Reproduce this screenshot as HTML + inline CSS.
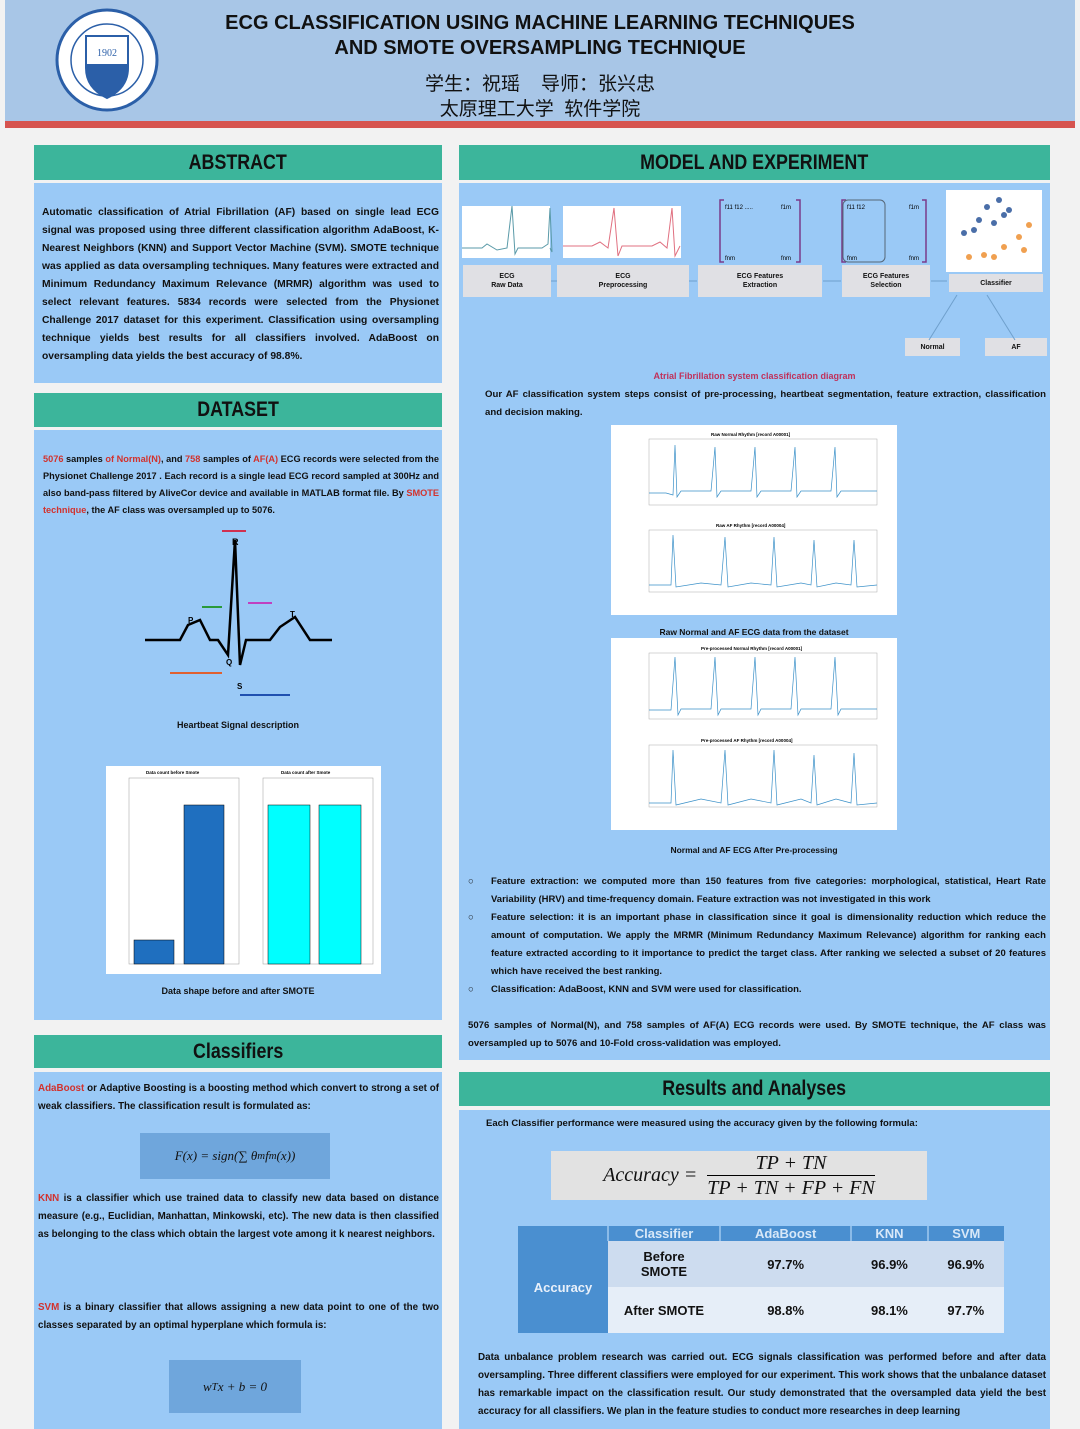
<!DOCTYPE html>
<html><head><meta charset="utf-8"><style>
*{margin:0;padding:0;box-sizing:border-box}
body{width:1080px;height:1429px;background:#f2f2f2;position:relative;overflow:hidden;font-family:"Liberation Sans","Noto Sans CJK SC",sans-serif;color:#111}
.a{position:absolute}
.hd{background:#3cb59b;text-align:center;font-weight:bold;font-size:21px;color:#111;display:flex;align-items:center;justify-content:center;font-family:"Liberation Sans Narrow","Liberation Sans",sans-serif}
.hd span{display:inline-block;transform:scaleX(.85)}
.bd{background:#9ac9f6}
.t{font-size:10.2px;font-weight:bold;line-height:18px;text-align:justify}
.r{color:#d2322d}
.box{background:#e0e0e4;font-size:7px;font-weight:bold;text-align:center;display:flex;align-items:center;justify-content:center;line-height:9px}
.w{background:#fff}
</style></head><body>
<div class="a" style="left:5px;top:0;width:1070px;height:122px;background:#a8c6e7"></div>
<div class="a" style="left:5px;top:121px;width:1070px;height:7px;background:#d6544f"></div>
<svg class="a" style="left:54px;top:8px" width="106" height="104"><circle cx="53" cy="52" r="50" fill="#fff" stroke="#2b5fa8" stroke-width="3"/><circle cx="53" cy="52" r="36" fill="none" stroke="#2b5fa8" stroke-width="1.5"/><path d="M32 28 H74 V60 Q74 80 53 90 Q32 80 32 60Z" fill="#fff" stroke="#2b5fa8" stroke-width="2"/><path d="M32 56 H74 V62 Q74 80 53 90 Q32 80 32 62Z" fill="#2b5fa8"/><text x="53" y="48" font-size="10" text-anchor="middle" fill="#2b5fa8" font-family="Liberation Serif">1902</text></svg>
<div class="a" style="left:200px;top:11px;width:680px;text-align:center;font-weight:bold;font-size:20px;line-height:25px">ECG CLASSIFICATION USING MACHINE LEARNING TECHNIQUES<br>AND SMOTE OVERSAMPLING TECHNIQUE</div>
<div class="a" style="left:340px;top:72px;width:400px;text-align:center;font-size:19px;line-height:25px">学生：祝瑶&nbsp;&nbsp;&nbsp;&nbsp;导师：张兴忠<br>太原理工大学&nbsp;&nbsp;软件学院</div>

<div class="a hd" style="left:34px;top:145px;width:408px;height:35px"><span>ABSTRACT</span></div>
<div class="a bd" style="left:34px;top:183px;width:408px;height:200px"></div>
<div class="a t" style="left:42px;top:204px;width:397px;font-size:10.3px">Automatic classification of Atrial Fibrillation (AF) based on single lead ECG signal was proposed using three different classification algorithm AdaBoost, K-Nearest Neighbors (KNN) and Support Vector Machine (SVM). SMOTE technique was applied as data oversampling techniques. Many features were extracted and Minimum Redundancy Maximum Relevance (MRMR) algorithm was used to select relevant features. 5834 records were selected from the Physionet Challenge 2017 dataset for this experiment. Classification using oversampling technique yields best results for all classifiers involved. AdaBoost on oversampling data yields the best accuracy of 98.8%.</div>

<div class="a hd" style="left:34px;top:393px;width:408px;height:34px"><span>DATASET</span></div>
<div class="a bd" style="left:34px;top:430px;width:408px;height:590px"></div>
<div class="a t" style="left:43px;top:451px;width:396px;font-size:9.2px;line-height:17px"><span class="r">5076</span> samples <span class="r">of Normal(N)</span>, and <span class="r">758</span> samples of <span class="r">AF(A)</span> ECG records were selected from the Physionet Challenge 2017 . Each record is a single lead ECG record sampled at 300Hz and also band-pass filtered by AliveCor device and available in MATLAB format file. By <span class="r">SMOTE technique</span>, the AF class was oversampled up to 5076.</div>
<svg class="a" style="left:140px;top:515px" width="200" height="190"><polyline points="5,125 40,125 48,110 60,105 70,125 78,125 88,140 95,25 100,150 106,125 130,125 140,112 155,102 170,125 192,125" fill="none" stroke="#000" stroke-width="2.5"/><text x="92" y="30" font-size="9" font-weight="bold">R</text><text x="48" y="108" font-size="8" font-weight="bold">P</text><text x="150" y="102" font-size="8" font-weight="bold">T</text><text x="86" y="150" font-size="8" font-weight="bold">Q</text><text x="97" y="174" font-size="8" font-weight="bold">S</text><line x1="30" y1="158" x2="82" y2="158" stroke="#e06030" stroke-width="2"/><line x1="62" y1="92" x2="82" y2="92" stroke="#2a9a3a" stroke-width="2"/><line x1="82" y1="16" x2="106" y2="16" stroke="#d03050" stroke-width="2"/><line x1="108" y1="88" x2="132" y2="88" stroke="#c040c0" stroke-width="2"/><line x1="100" y1="180" x2="150" y2="180" stroke="#2050b0" stroke-width="2"/></svg>
<div class="a" style="left:34px;top:720px;width:408px;text-align:center;font-size:9px;font-weight:bold">Heartbeat Signal description</div>
<div class="a w" style="left:106px;top:766px;width:275px;height:208px"></div>
<svg class="a" style="left:106px;top:766px" width="275" height="208" font-size="4.5" font-family="Liberation Sans"><text x="40" y="8" font-weight="bold">Data count before Smote</text><text x="175" y="8" font-weight="bold">Data count after Smote</text><rect x="23" y="12" width="110" height="186" fill="none" stroke="#999" stroke-width=".5"/><rect x="157" y="12" width="110" height="186" fill="none" stroke="#999" stroke-width=".5"/><rect x="28" y="174" width="40" height="24" fill="#1f6fbf" stroke="#000" stroke-width=".5"/><rect x="78" y="39" width="40" height="159" fill="#1f6fbf" stroke="#000" stroke-width=".5"/><rect x="162" y="39" width="42" height="159" fill="#00ffff" stroke="#000" stroke-width=".5"/><rect x="213" y="39" width="42" height="159" fill="#00ffff" stroke="#000" stroke-width=".5"/></svg>
<div class="a" style="left:34px;top:986px;width:408px;text-align:center;font-size:9px;font-weight:bold">Data shape before and after SMOTE</div>

<div class="a hd" style="left:34px;top:1035px;width:408px;height:33px"><span>Classifiers</span></div>
<div class="a bd" style="left:34px;top:1072px;width:408px;height:357px"></div>
<div class="a t" style="left:38px;top:1080px;width:401px;font-size:9.8px"><span class="r">AdaBoost</span> or Adaptive Boosting is a boosting method which convert to strong a set of weak classifiers. The classification result is formulated as:</div>
<div class="a" style="left:140px;top:1133px;width:190px;height:46px;background:#6fa6dc;font-family:'Liberation Serif',serif;font-style:italic;font-size:13px;display:flex;align-items:center;justify-content:center">F(x) = sign(∑ θ<sub>m</sub> f<sub>m</sub>(x))</div>
<div class="a t" style="left:38px;top:1190px;width:401px;font-size:9.8px"><span class="r">KNN</span> is a classifier which use trained data to classify new data based on distance measure (e.g., Euclidian, Manhattan, Minkowski, etc). The new data is then classified as belonging to the class which obtain the largest vote among it k nearest neighbors.</div>
<div class="a t" style="left:38px;top:1299px;width:401px;font-size:9.8px"><span class="r">SVM</span> is a binary classifier that allows assigning a new data point to one of the two classes separated by an optimal hyperplane which formula is:</div>
<div class="a" style="left:169px;top:1360px;width:132px;height:53px;background:#6fa6dc;font-family:'Liberation Serif',serif;font-style:italic;font-size:13px;display:flex;align-items:center;justify-content:center">w<sup>T</sup>x + b = 0</div>

<div class="a hd" style="left:459px;top:145px;width:591px;height:35px"><span>MODEL AND EXPERIMENT</span></div>
<div class="a bd" style="left:459px;top:183px;width:591px;height:877px"></div>
<div class="a w" style="left:462px;top:206px;width:88px;height:52px"></div>
<div class="a w" style="left:563px;top:206px;width:118px;height:52px"></div>
<svg class="a" style="left:462px;top:206px" width="220" height="52"><polyline points="0,42 20,42 25,38 35,44 45,42 50,0 53,48 56,42 80,42 86,38 88,2 90,46 88,42" fill="none" stroke="#5a9aa8"/><polyline points="101,40 130,40 138,36 146,42 152,2 156,50 160,40 190,40 198,36 205,42 210,2 213,50 218,40" fill="none" stroke="#e07080"/></svg>
<div class="a box" style="left:463px;top:265px;width:88px;height:32px">ECG<br>Raw Data</div>
<div class="a box" style="left:557px;top:265px;width:132px;height:32px">ECG<br>Preprocessing</div>
<div class="a box" style="left:698px;top:265px;width:124px;height:32px">ECG Features<br>Extraction</div>
<div class="a box" style="left:842px;top:265px;width:88px;height:32px">ECG Features<br>Selection</div>
<div class="a box" style="left:949px;top:274px;width:94px;height:18px">Classifier</div>
<div class="a box" style="left:905px;top:338px;width:55px;height:18px">Normal</div>
<div class="a box" style="left:985px;top:338px;width:62px;height:18px">AF</div>
<svg class="a" style="left:459px;top:185px" width="591" height="160" font-size="6" font-family="Liberation Sans"><g stroke="#6fa0cc"><line x1="92" y1="96" x2="98" y2="96"/><line x1="230" y1="96" x2="238" y2="96"/><line x1="364" y1="96" x2="382" y2="96"/><line x1="472" y1="96" x2="488" y2="96"/><line x1="498" y1="110" x2="470" y2="155"/><line x1="528" y1="110" x2="556" y2="155"/></g><g fill="none" stroke="#7a3a8a" stroke-width="1.5"><path d="M265,15 h-4 v62 h4 M337,15 h4 v62 h-4 M387,15 h-4 v62 h4 M463,15 h4 v62 h-4"/></g><rect x="384" y="15" width="42" height="62" rx="5" fill="none" stroke="#567"/><text x="266" y="24">f11  f12  .....</text><text x="322" y="24">f1m</text><text x="266" y="75">fnm</text><text x="322" y="75">fnm</text><text x="388" y="24">f11  f12</text><text x="450" y="24">f1m</text><text x="388" y="75">fnm</text><text x="450" y="75">fnm</text><rect x="487" y="5" width="96" height="82" fill="#fff"/><g fill="#4a6ea8"><circle cx="540" cy="15" r="3"/><circle cx="528" cy="22" r="3"/><circle cx="550" cy="25" r="3"/><circle cx="520" cy="35" r="3"/><circle cx="535" cy="38" r="3"/><circle cx="505" cy="48" r="3"/><circle cx="515" cy="45" r="3"/><circle cx="545" cy="30" r="3"/></g><g fill="#f0a050"><circle cx="570" cy="40" r="3"/><circle cx="560" cy="52" r="3"/><circle cx="545" cy="62" r="3"/><circle cx="525" cy="70" r="3"/><circle cx="510" cy="72" r="3"/><circle cx="565" cy="65" r="3"/><circle cx="535" cy="72" r="3"/></g></svg>
<div class="a" style="left:459px;top:371px;width:591px;text-align:center;font-size:9px;font-weight:bold;color:#c0305a">Atrial Fibrillation system classification diagram</div>
<div class="a t" style="left:485px;top:386px;width:561px;font-size:9.6px">Our AF classification system steps consist of pre-processing, heartbeat segmentation, feature extraction, classification and decision making.</div>
<div class="a w" style="left:611px;top:425px;width:286px;height:190px"></div>
<div class="a w" style="left:611px;top:638px;width:286px;height:192px"></div>
<svg class="a" style="left:611px;top:425px" width="286" height="405" font-size="4.5" font-family="Liberation Sans"><text x="100" y="11" font-weight="bold">Raw Normal Rhythm [record A00001]</text><rect x="38" y="14" width="228" height="66" fill="none" stroke="#aaa" stroke-width=".5"/><polyline points="38,68 55,68 62,70 64,20 66,72 70,66 100,66 104,22 106,72 110,66 140,66 144,22 146,72 150,66 180,66 184,22 186,72 190,66 220,66 224,22 226,72 230,66 266,66" fill="none" stroke="#3a90c8" stroke-width=".7"/><text x="105" y="102" font-weight="bold">Raw AF Rhythm [record A00004]</text><rect x="38" y="105" width="228" height="62" fill="none" stroke="#aaa" stroke-width=".5"/><polyline points="38,160 60,160 62,110 65,162 90,158 110,160 114,112 117,162 140,158 160,160 163,112 166,162 190,158 200,160 203,115 206,162 225,158 240,160 243,115 246,162 266,160" fill="none" stroke="#3a90c8" stroke-width=".7"/><text x="90" y="225" font-weight="bold">Pre-processed Normal Rhythm [record A00001]</text><rect x="38" y="228" width="228" height="66" fill="none" stroke="#aaa" stroke-width=".5"/><polyline points="38,285 60,285 64,232 67,290 70,284 100,284 104,232 107,290 110,284 140,284 144,232 147,290 150,284 180,284 184,232 187,290 190,284 220,284 224,232 227,290 230,284 266,284" fill="none" stroke="#3a90c8" stroke-width=".7"/><text x="90" y="317" font-weight="bold">Pre-processed AF Rhythm [record A00004]</text><rect x="38" y="320" width="228" height="62" fill="none" stroke="#aaa" stroke-width=".5"/><polyline points="38,378 60,378 62,325 65,380 90,374 110,378 114,325 117,380 140,374 160,378 163,325 166,380 190,374 200,378 203,330 206,380 225,374 240,378 243,328 246,380 266,378" fill="none" stroke="#3a90c8" stroke-width=".7"/></svg>
<div class="a" style="left:611px;top:627px;width:286px;text-align:center;font-size:8.5px;font-weight:bold">Raw Normal and AF ECG data from the dataset</div>
<div class="a" style="left:611px;top:845px;width:286px;text-align:center;font-size:8.5px;font-weight:bold">Normal and AF ECG After Pre-processing</div>
<div class="a t" style="left:468px;top:873px;width:578px;font-size:9.5px">
<div style="padding-left:23px;position:relative"><span style="position:absolute;left:0">○</span>Feature extraction: we computed more than 150 features from five categories: morphological, statistical, Heart Rate Variability (HRV) and time-frequency domain. Feature extraction was not investigated in this work</div>
<div style="padding-left:23px;position:relative"><span style="position:absolute;left:0">○</span>Feature selection: it is an important phase in classification since it goal is dimensionality reduction which reduce the amount of computation. We apply the MRMR (Minimum Redundancy Maximum Relevance) algorithm for ranking each feature extracted according to it importance to predict the target class. After ranking we selected a subset of 20 features which have received the best ranking.</div>
<div style="padding-left:23px;position:relative"><span style="position:absolute;left:0">○</span>Classification: AdaBoost, KNN and SVM were used for classification.</div></div>
<div class="a t" style="left:468px;top:1017px;width:578px;font-size:9.6px">5076 samples of Normal(N), and 758 samples of AF(A) ECG records were used. By SMOTE technique, the AF class was oversampled up to 5076 and 10-Fold cross-validation was employed.</div>

<div class="a hd" style="left:459px;top:1072px;width:591px;height:34px"><span>Results and Analyses</span></div>
<div class="a bd" style="left:459px;top:1110px;width:591px;height:319px"></div>
<div class="a t" style="left:486px;top:1115px;width:560px;font-size:9.5px">Each Classifier performance were measured using the accuracy given by the following formula:</div>
<div class="a" style="left:551px;top:1151px;width:376px;height:49px;background:#e2e2e2;font-family:'Liberation Serif',serif;font-style:italic;font-size:20px;display:flex;align-items:center;justify-content:center;gap:10px"><span>Accuracy =</span><span style="display:inline-block;text-align:center;line-height:24px"><span style="display:block;border-bottom:1.5px solid #000">TP + TN</span>TP + TN + FP + FN</span></div>
<table class="a" style="left:518px;top:1226px;width:486px;border-collapse:collapse;font-weight:bold;font-size:13px;text-align:center">
<tr style="background:#4a8fd0;color:#d8e8f8;height:15px"><td style="width:90px"></td><td style="width:112px;border-left:2px solid #8bbbe8">Classifier</td><td style="border-left:2px solid #8bbbe8">AdaBoost</td><td style="border-left:2px solid #8bbbe8">KNN</td><td style="border-left:2px solid #8bbbe8">SVM</td></tr>
<tr style="background:#cddcef;height:46px"><td rowspan="2" style="background:#4a8fd0;color:#e8f0fa">Accuracy</td><td>Before<br>SMOTE</td><td>97.7%</td><td>96.9%</td><td>96.9%</td></tr>
<tr style="background:#e6eef8;height:46px"><td>After SMOTE</td><td>98.8%</td><td>98.1%</td><td>97.7%</td></tr></table>
<div class="a t" style="left:478px;top:1349px;width:568px;font-size:9.9px">Data unbalance problem research was carried out. ECG signals classification was performed before and after data oversampling. Three different classifiers were employed for our experiment. This work shows that the unbalance dataset has remarkable impact on the classification result. Our study demonstrated that the oversampled data yield the best accuracy for all classifiers. We plan in the feature studies to conduct more researches in deep learning</div>
</body></html>
